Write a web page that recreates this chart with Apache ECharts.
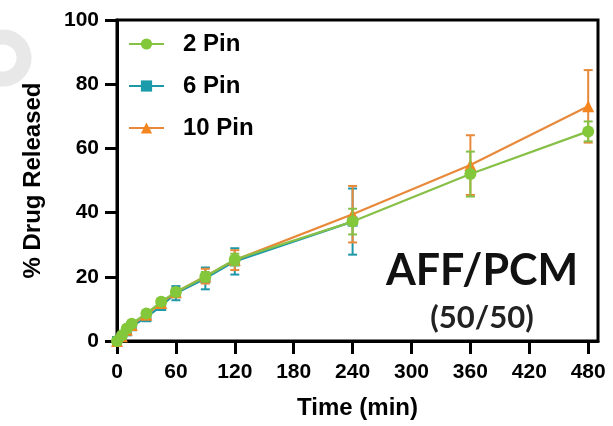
<!DOCTYPE html>
<html>
<head>
<meta charset="utf-8">
<script src="https://cdn.jsdelivr.net/npm/echarts@6/dist/echarts.min.js"></script>
<style>
  html, body { margin: 0; padding: 0; background: #fff; }
  #chart { width: 613px; height: 426px; }
</style>
</head>
<body>
<div id="chart"></div>
<script>
// Sampling times (min)
const times = [0, 5, 10, 15, 30, 45, 60, 90, 120, 240, 360, 480];
const xTicks = [0, 60, 120, 180, 240, 300, 360, 420, 480];
const yTicks = [0, 20, 40, 60, 80, 100];

// Mean % drug released and standard deviation per formulation
const pin2 = [0, 1.8, 3.9, 5.4, 8.6, 12.2, 15.3, 20.0, 25.4, 37.2, 52.0, 65.3];
const pin2Err = [0, 0.4, 0.5, 0.6, 0.8, 1.0, 1.2, 1.5, 1.8, 4.0, 7.0, 3.1];

const pin6 = [0, 1.2, 3.0, 4.6, 7.4, 10.9, 14.9, 19.5, 24.8, 37.2];
const pin6Err = [0, 0.5, 0.6, 0.7, 1.0, 1.2, 2.2, 3.4, 4.1, 10.3];

const pin10 = [0, 1.5, 3.5, 5.0, 8.2, 11.8, 15.2, 20.2, 25.2, 39.5, 54.8, 73.1];
const pin10Err = [0, 0.4, 0.5, 0.6, 0.8, 1.0, 1.3, 2.3, 3.1, 8.8, 9.3, 11.3];

const seriesNames = ['2 Pin', '6 Pin', '10 Pin'];
const colors = { '2 Pin': '#82c83a', '6 Pin': '#1c9bab', '10 Pin': '#f5861f' };
const lineColors = { '2 Pin': '#86c046', '6 Pin': '#1e98a8', '10 Pin': '#e8893a' };

const LABEL_FONT = '"Liberation Sans", Arial, sans-serif';

function points(vals) {
  return vals.map((v, i) => [times[i], v]);
}
function bars(vals, errs) {
  return vals.map((v, i) => [times[i], v - errs[i], v + errs[i]]);
}

// Vertical error bar with caps
function errorBar(color) {
  return function (params, api) {
    const x = api.value(0);
    const lo = api.coord([x, api.value(1)]);
    const hi = api.coord([x, api.value(2)]);
    const hw = 4.5;
    const style = { stroke: color, lineWidth: 2, fill: null };
    return {
      type: 'group',
      children: [
        { type: 'line', shape: { x1: lo[0], y1: lo[1], x2: hi[0], y2: hi[1] }, style },
        { type: 'line', shape: { x1: lo[0] - hw, y1: lo[1], x2: lo[0] + hw, y2: lo[1] }, style },
        { type: 'line', shape: { x1: hi[0] - hw, y1: hi[1], x2: hi[0] + hw, y2: hi[1] }, style }
      ]
    };
  };
}

function lineSeries(name, vals, symbol, size, z) {
  return {
    name, type: 'line', data: points(vals), symbol, symbolSize: size,
    showAllSymbol: true, clip: false, z,
    color: colors[name],
    lineStyle: { color: lineColors[name], width: 2.2 },
    itemStyle: { color: colors[name], borderWidth: 0 },
    emphasis: { disabled: true }
  };
}
function errSeries(name, vals, errs, z) {
  return {
    name: name + ' SD', type: 'custom', data: bars(vals, errs), renderItem: errorBar(lineColors[name]),
    color: lineColors[name],
    clip: false, z, encode: { x: 0, y: [1, 2] }, silent: true
  };
}

const chart = echarts.init(document.getElementById('chart'), null, { renderer: 'canvas' });
chart.setOption({
  animation: false,
  backgroundColor: '#fff',
  grid: {
    left: 117, right: 15, top: 20, bottom: 85,
    show: true, borderColor: '#000', borderWidth: 3, backgroundColor: 'transparent'
  },
  legend: {
    data: seriesNames,
    orient: 'vertical', left: 128, top: 32, padding: 0,
    itemWidth: 35, itemHeight: 14, itemGap: 18,
    textStyle: {
      fontFamily: LABEL_FONT, fontWeight: 'bold', fontSize: 24, color: '#000',
      lineHeight: 24, padding: [0, 0, 0, 14]
    }
  },
  xAxis: {
    type: 'value', min: 0, max: 490,
    name: 'Time (min)', nameLocation: 'middle', nameGap: 55,
    nameTextStyle: { fontFamily: LABEL_FONT, fontWeight: 'bold', fontSize: 24, color: '#000' },
    axisLine: { show: true, onZero: false, lineStyle: { color: '#000', width: 3 } },
    axisTick: { show: true, length: 13, lineStyle: { color: '#000', width: 3 }, customValues: xTicks },
    axisLabel: {
      customValues: xTicks, margin: 21,
      fontFamily: LABEL_FONT, fontWeight: 'bold', fontSize: 21, color: '#000'
    },
    splitLine: { show: false }
  },
  yAxis: {
    type: 'value', min: 0, max: 100, interval: 20,
    name: '% Drug Released', nameLocation: 'middle', nameGap: 72,
    nameTextStyle: { fontFamily: LABEL_FONT, fontWeight: 'bold', fontSize: 24, color: '#000' },
    axisLine: { show: true, lineStyle: { color: '#000', width: 3 } },
    axisTick: { show: true, length: 12, lineStyle: { color: '#000', width: 3 }, customValues: yTicks },
    axisLabel: {
      customValues: yTicks, margin: 18,
      fontFamily: LABEL_FONT, fontWeight: 'bold', fontSize: 21, color: '#000'
    },
    splitLine: { show: false }
  },
  graphic: [
    {
      type: 'arc', silent: true, z: -10,
      shape: { cx: 3, cy: 58, r: 21, startAngle: -Math.PI * 0.8, endAngle: Math.PI * 0.85 },
      style: { stroke: '#e8e8e8', lineWidth: 15, fill: null }
    },
    {
      type: 'text', silent: true, z: 100,
      x: 482, y: 271,
      style: {
        text: 'AFF/PCM', x: 0, y: 0, align: 'center', verticalAlign: 'middle',
        fontFamily: 'Lato, sans-serif', fontWeight: 'bold', fontSize: 43, fill: '#111'
      }
    },
    {
      type: 'text', silent: true, z: 100,
      x: 482, y: 318,
      style: {
        text: '(50/50)', x: 0, y: 0, align: 'center', verticalAlign: 'middle',
        fontFamily: 'Lato, sans-serif', fontWeight: 'bold', fontSize: 31, fill: '#222'
      }
    }
  ],
  series: [
    lineSeries('6 Pin', pin6, 'rect', 10, 3),
    lineSeries('10 Pin', pin10, 'triangle', 12, 5),
    lineSeries('2 Pin', pin2, 'circle', 12, 7),
    errSeries('6 Pin', pin6, pin6Err, 2),
    errSeries('10 Pin', pin10, pin10Err, 4),
    errSeries('2 Pin', pin2, pin2Err, 6)
  ]
});
</script>
</body>
</html>
